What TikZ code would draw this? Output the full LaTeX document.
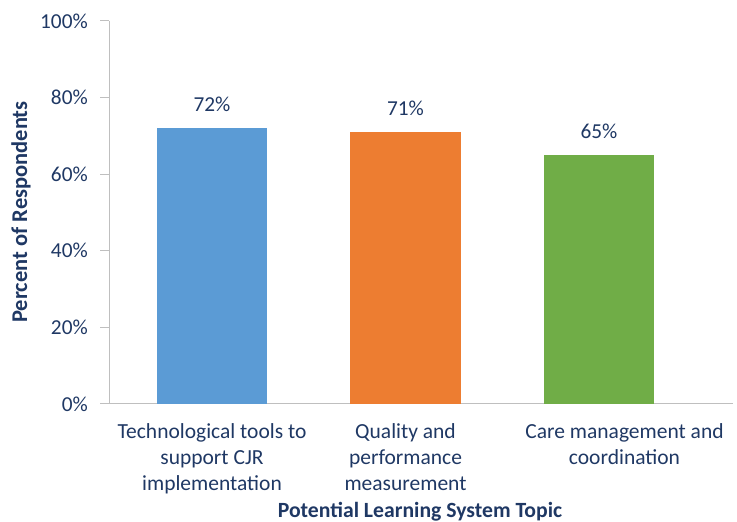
\documentclass[tikz,border=0pt]{standalone}
\usepackage{fontspec}
\setmainfont{Carlito}
\definecolor{txt}{RGB}{31,56,100}
\definecolor{axisgray}{RGB}{191,191,191}
\definecolor{cblue}{RGB}{91,155,213}
\definecolor{corange}{RGB}{237,125,49}
\definecolor{cgreen}{RGB}{112,173,71}
\begin{document}
\begin{tikzpicture}[x=1pt,y=1pt,
  ticklab/.style={anchor=east,text=txt,font=\fontsize{21.3}{24}\selectfont,inner sep=0pt},
  vallab/.style={anchor=south,text=txt,font=\fontsize{21.3}{24}\selectfont,inner sep=0pt},
  catlab/.style={anchor=north,text=txt,align=center,font=\fontsize{21.5}{26}\selectfont,inner sep=0pt},
  axtitle/.style={text=txt,font=\bfseries\fontsize{22.5}{24}\selectfont,inner sep=0pt},
  xtitle/.style={text=txt,font=\bfseries\fontsize{21.7}{24}\selectfont,inner sep=0pt}]
\useasboundingbox (0,0) rectangle (737,522);
% y: pixel row r -> 522-r
% axes
\coordinate (o) at (109,118);
\coordinate (top) at (109,501);
\coordinate (xend) at (733,118);
\draw[axisgray,line width=1pt] (top) -- (o) -- (xend);
\foreach \v/\r in {0/404,20/327.4,40/250.8,60/174.2,80/97.6,100/21}{
  \coordinate (t\v) at (109,522-\r);
  \draw[axisgray,line width=1pt] (t\v) -- ++(-9,0);
  \node[ticklab] (l\v) at (88,522-\r) {\v\%};
}
% bars
\fill[cblue] (157,118) rectangle (267,522-128) coordinate (b1);
\fill[corange] (350,118) rectangle (461,522-132) coordinate (b2);
\fill[cgreen] (544,118) rectangle (654,522-155) coordinate (b3);
\node[vallab] (v1) at (212,522-128+16) {72\%};
\node[vallab] (v2) at (405.5,522-132+16) {71\%};
\node[vallab] (v3) at (599,522-155+16) {65\%};
% category labels
\node[catlab] (c1) at (212,522-423) {Technological tools to\\support CJR\\implementation};
\node[catlab] (c2) at (405.5,522-423) {Quality and\\performance\\measurement};
\node[catlab] (c3) at (624.5,522-423) {Care management and\\coordination};
% axis titles
\node[axtitle,rotate=90] (yt) at (21,522-212) {Percent of Respondents};
\node[xtitle,anchor=base] (xt) at (420,522-518) {Potential Learning System Topic};
\end{tikzpicture}
\end{document}
